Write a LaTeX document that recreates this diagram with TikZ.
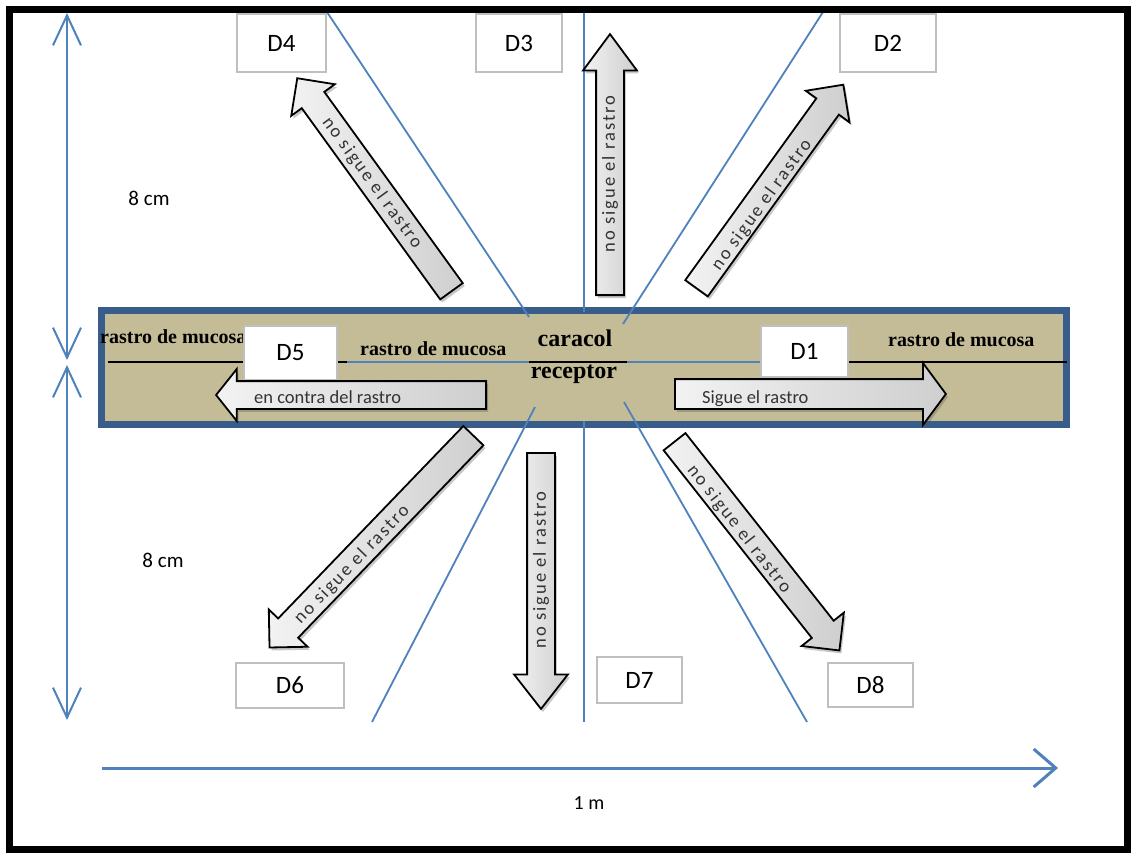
\documentclass[tikz,border=0pt]{standalone}
\usepackage{fontspec}
\setmainfont{Carlito}
\newfontfamily\trailfont{Liberation Serif}
\newfontfamily\arrowfont{Carlito}[LetterSpace=11]
\usetikzlibrary{shapes.arrows,shadows,arrows.meta}
\definecolor{bandfill}{RGB}{196,188,150}
\definecolor{bandline}{RGB}{56,93,138}
\definecolor{guide}{RGB}{79,129,189}
\definecolor{boxline}{RGB}{191,191,191}
\begin{document}
\begin{tikzpicture}[x=1pt,y=-1pt,
  guideline/.style={draw=guide, line width=1.8pt},
  dimarrow/.style={draw=guide, line width=2pt, {Straight Barb[length=30pt,width=28pt]}-{Straight Barb[length=30pt,width=28pt]}},
  bandbox/.style={rectangle, draw=bandline, fill=bandfill, line width=7pt, inner sep=0pt},
  trail/.style={draw=black, line width=2.2pt},
  trailblue/.style={draw=guide, line width=2pt},
  dbox/.style={rectangle, draw=boxline, fill=white, line width=2pt, inner sep=0pt, font=\fontsize{25}{30}\selectfont},
  trailtext/.style={inner sep=0pt, font=\trailfont\bfseries\fontsize{20}{24}\selectfont},
  snailtext/.style={inner sep=0pt, font=\trailfont\bfseries\fontsize{24}{28}\selectfont},
  dimtext/.style={inner sep=0pt, font=\fontsize{21}{25}\selectfont},
  blockarrow/.style={single arrow, anchor=tail, draw=black, line width=1.8pt,
     inner xsep=0pt, inner ysep=13pt, single arrow head extend=13pt,
     left color=gray!10, right color=gray!38,
     drop shadow={shadow xshift=2pt, shadow yshift=-3pt, opacity=0.3, fill=black!70}},
  arrowtext/.style={inner sep=0pt, text=black!80, font=\arrowfont\fontsize{18.5}{22}\selectfont},
  flattext/.style={inner sep=0pt, text=black!80, anchor=base west, font=\fontsize{18.5}{22}\selectfont}
]
\useasboundingbox (0,0) rectangle (1136,854);
\fill[white] (0,0) rectangle (1136,854);

% trail band
\node[bandbox, minimum width=965pt, minimum height=114pt] (band) at (583.5,367) {};

% guide lines
\coordinate (ulA) at (327,12);  \coordinate (ulB) at (529,317);
\coordinate (umA) at (584,12);  \coordinate (umB) at (584,312);
\coordinate (urA) at (823,12);  \coordinate (urB) at (623,324);
\coordinate (llA) at (535,407); \coordinate (llB) at (372,722);
\coordinate (lmA) at (584,421); \coordinate (lmB) at (584,722);
\coordinate (lrA) at (624,402); \coordinate (lrB) at (807,722);
\draw[guideline] (ulA) -- (ulB);
\draw[guideline] (umA) -- (umB);
\draw[guideline] (urA) -- (urB);
\draw[guideline] (llA) -- (llB);
\draw[guideline] (lmA) -- (lmB);
\draw[guideline] (lrA) -- (lrB);

% mucus trail
\coordinate (trL) at (108,362); \coordinate (trR) at (1067,362);
\draw[trail] (trL) -- (trR);
\coordinate (tb1) at (347,362); \coordinate (tb2) at (529,362);
\coordinate (tb3) at (627,362); \coordinate (tb4) at (760,362);
\draw[trailblue] (tb1) -- (tb2);
\draw[trailblue] (tb3) -- (tb4);

% trail texts
\node[trailtext, anchor=base west] (rm1) at (100,343) {rastro de mucosa};
\node[trailtext, anchor=base west] (rm2) at (360,355) {rastro de mucosa};
\node[trailtext, anchor=base west] (rm3) at (888,346) {rastro de mucosa};
\node[snailtext, anchor=base] (car) at (575,346) {caracol};
\node[snailtext, anchor=base] (rec) at (574,378) {receptor};

% destination boxes
\node[dbox, minimum width=89pt, minimum height=58pt] (D4) at (281.5,43) {D4};
\node[dbox, minimum width=86pt, minimum height=58pt] (D3) at (519,43) {D3};
\node[dbox, minimum width=96pt, minimum height=58pt] (D2) at (888,43) {D2};
\node[dbox, minimum width=93pt, minimum height=54pt] (D5) at (290.5,353) {D5};
\node[dbox, minimum width=87pt, minimum height=51pt] (D1) at (804.5,351.5) {D1};
\node[dbox, minimum width=108pt, minimum height=45pt] (D6) at (290,685.5) {D6};
\node[dbox, minimum width=85pt, minimum height=46pt] (D7) at (639.5,680) {D7};
\node[dbox, minimum width=85pt, minimum height=44pt] (D8) at (870.5,685) {D8};

% block arrows
\node[blockarrow, rotate=125.9, minimum height=263pt] (a4) at (452,292) {};
\node[blockarrow, rotate=90, minimum height=261pt, single arrow tip angle=73] (a3) at (610,296) {};
\node[blockarrow, rotate=54.2, minimum height=251pt] (a2) at (696,289) {};
\node[blockarrow, rotate=226.1, minimum height=294pt] (a6) at (474,435) {};
\node[blockarrow, rotate=270, minimum height=256pt, single arrow tip angle=76] (a7) at (541,452) {};
\node[blockarrow, rotate=-51.7, minimum height=266pt] (a8) at (674,441) {};
\node[blockarrow, rotate=180, minimum height=270pt, single arrow tip angle=103, single arrow head extend=12pt] (a5) at (487,395) {};
\node[blockarrow, rotate=0, minimum height=271pt, single arrow tip angle=107, inner ysep=14pt, single arrow head extend=16pt] (a1) at (674,394) {};

% arrow texts
\node[arrowtext, rotate=-54] (t4) at (372,183) {no sigue el rastro};
\node[arrowtext, rotate=90] (t3) at (610,174) {no sigue el rastro};
\node[arrowtext, rotate=54] (t2) at (762,205) {no sigue el rastro};
\node[arrowtext, rotate=46] (t6) at (352,565) {no sigue el rastro};
\node[arrowtext, rotate=90] (t7) at (541,570) {no sigue el rastro};
\node[arrowtext, rotate=-52] (t8) at (739,529) {no sigue el rastro};
\node[flattext] (t5) at (254,403) {en contra del rastro};
\node[flattext] (t1) at (702,403) {Sigue el rastro};

% dimension arrows
\coordinate (v1) at (67,13);  \coordinate (v2) at (67,360);
\coordinate (v3) at (67,365); \coordinate (v4) at (67,720);
\draw[dimarrow] (v2) -- (v1);
\draw[dimarrow] (v3) -- (v4);
\coordinate (h1) at (102,768); \coordinate (h2) at (1058,768);
\draw[draw=guide, line width=3pt, -{Straight Barb[length=22pt,width=38pt]}] (h1) -- (h2);
\node[dimtext] (cm1) at (149,198) {8 cm};
\node[dimtext] (cm2) at (163,560) {8 cm};
\node[dimtext, font=\fontsize{20}{24}\selectfont] (m1) at (589,803) {1 m};

% outer frame
\draw[line width=7pt] (9.5,9.5) rectangle (1127,849);
\end{tikzpicture}
\end{document}
